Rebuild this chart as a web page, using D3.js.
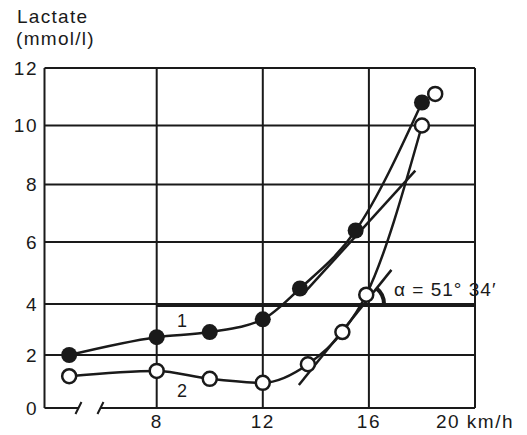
<!DOCTYPE html>
<html>
<head>
<meta charset="utf-8">
<script src="https://cdn.jsdelivr.net/npm/d3@7"></script>
<style>
  body { margin: 0; background: #fff; }
  text { font-family: "Liberation Sans", Arial, sans-serif; fill: #1a1a1a; }
</style>
</head>
<body>
<div id="chart"></div>
<script>
// curve 1 (filled circles)
var speed1 = [4.7, 8, 10, 12, 13.4, 15.5, 18];
var lactate1 = [2.0, 2.7, 2.9, 3.4, 4.5, 6.4, 10.8];
// curve 2 (open circles), last point is not joined
var speed2 = [4.7, 8, 10, 12, 13.7, 15, 15.9, 18, 18.5];
var lactate2 = [1.2, 1.4, 1.1, 0.95, 1.65, 2.9, 4.3, 10.0, 11.1];
// straight line drawn beside curve 1 and the tangent on curve 2
var lineSpeed = [13.55, 17.75];
var lineLactate = [4.35, 8.47];
var tangentSpeed = [13.36, 16.85];
var tangentLactate = [0.87, 5.1];
var threshold = 4;

var yTicks = [0, 2, 4, 6, 8, 10, 12];
var xTicks = [8, 12, 16, 20];
var xTickLabels = ["8", "12", "16", "20 km/h"];
var angleLabel = "\u03b1 = 51\u00b0 34\u2032";

var w = 527, h = 435;
var ink = "#1a1a1a";

var svg = d3.select("#chart").append("svg")
  .attr("width", w)
  .attr("height", h);

// x axis is broken on the left, so the first reading sits before the break
var x = d3.scaleLinear().domain([3.77, 20]).range([44.5, 475]);
// the printed grid is not quite even, follow it
var y = d3.scaleLinear().domain(yTicks).range([408, 355, 304, 242, 184.5, 125.5, 68]);

var grid = svg.append("g").attr("stroke", ink).attr("stroke-width", 2).attr("fill", "none");

// horizontal grid lines
grid.selectAll("line.h")
  .data(yTicks.filter(function(d) { return d > 0; }))
  .enter().append("line")
  .attr("x1", x.range()[0]).attr("x2", x.range()[1])
  .attr("y1", function(d) { return y(d); })
  .attr("y2", function(d) { return y(d); });

// vertical grid lines + left border
grid.selectAll("line.v")
  .data([x.domain()[0]].concat(xTicks))
  .enter().append("line")
  .attr("x1", function(d) { return x(d); })
  .attr("x2", function(d) { return x(d); })
  .attr("y1", y(0)).attr("y2", y(12));

// bottom axis with the break
var brk = [5.05, 5.88];
grid.append("line").attr("x1", x(x.domain()[0])).attr("x2", x(brk[0])).attr("y1", y(0)).attr("y2", y(0));
grid.append("line").attr("x1", x(brk[1])).attr("x2", x(20)).attr("y1", y(0)).attr("y2", y(0));
grid.selectAll("line.brk")
  .data(brk)
  .enter().append("line")
  .attr("x1", function(d) { return x(d) - 3; })
  .attr("x2", function(d) { return x(d) + 3; })
  .attr("y1", y(0) + 6).attr("y2", y(0) - 6);

// threshold at 4 mmol/l
svg.append("line")
  .attr("x1", x(8)).attr("x2", x(20))
  .attr("y1", y(threshold) + 1).attr("y2", y(threshold) + 1)
  .attr("stroke", ink).attr("stroke-width", 4);

// tick labels
svg.selectAll("text.ytick")
  .data(yTicks)
  .enter().append("text")
  .attr("x", 38)
  .attr("y", function(d) { return y(d); })
  .attr("dy", "0.35em")
  .attr("text-anchor", "end")
  .style("font-size", "19px")
  .style("letter-spacing", "1.5px")
  .text(function(d) { return d; });

svg.selectAll("text.xtick")
  .data(xTicks)
  .enter().append("text")
  .attr("x", function(d) { return x(d); })
  .attr("y", 428)
  .attr("text-anchor", "middle")
  .style("font-size", "19px")
  .style("letter-spacing", "1.5px")
  .text(function(d, i) { return xTickLabels[i]; });

svg.append("text").attr("x", 17).attr("y", 23)
  .style("font-size", "19px").style("letter-spacing", "1.3px").text("Lactate");
svg.append("text").attr("x", 16).attr("y", 45)
  .style("font-size", "19px").style("letter-spacing", "1.3px").text("(mmol/l)");

// curves
var pts1 = speed1.map(function(s, i) { return [s, lactate1[i]]; });
var pts2 = speed2.map(function(s, i) { return [s, lactate2[i]]; });

var curve = d3.line()
  .x(function(d) { return x(d[0]); })
  .y(function(d) { return y(d[1]); })
  .curve(d3.curveMonotoneX);

var straight = d3.line()
  .x(function(d) { return x(d[0]); })
  .y(function(d) { return y(d[1]); });

svg.append("path").attr("d", curve(pts1))
  .attr("fill", "none").attr("stroke", ink).attr("stroke-width", 2.5);
svg.append("path").attr("d", curve(pts2.filter(function(d) { return d[0] <= 18; })))
  .attr("fill", "none").attr("stroke", ink).attr("stroke-width", 2.5);

svg.append("path")
  .attr("d", straight(lineSpeed.map(function(s, i) { return [s, lineLactate[i]]; })))
  .attr("fill", "none").attr("stroke", ink).attr("stroke-width", 2.5);
svg.append("path")
  .attr("d", straight(tangentSpeed.map(function(s, i) { return [s, tangentLactate[i]]; })))
  .attr("fill", "none").attr("stroke", ink).attr("stroke-width", 2.5);

// angle marker where the tangent crosses 4 mmol/l
var t0 = [x(tangentSpeed[0]), y(tangentLactate[0])];
var t1 = [x(tangentSpeed[1]), y(tangentLactate[1])];
var k = (y(threshold) - t0[1]) / (t1[1] - t0[1]);
var cx = t0[0] + k * (t1[0] - t0[0]);
var ang = Math.atan2(t0[1] - t1[1], t1[0] - t0[0]);
var arc = d3.arc()
  .innerRadius(18).outerRadius(22)
  .startAngle(Math.PI / 2 - ang)
  .endAngle(Math.PI / 2);
svg.append("path")
  .attr("transform", "translate(" + cx + "," + y(threshold) + ")")
  .attr("d", arc())
  .attr("fill", ink);

svg.append("text")
  .attr("x", x(16.95)).attr("y", y(4.27))
  .style("font-size", "19px")
  .style("letter-spacing", "1px")
  .text(angleLabel);

// markers
svg.selectAll("circle.open")
  .data(pts2)
  .enter().append("circle")
  .attr("cx", function(d) { return x(d[0]); })
  .attr("cy", function(d) { return y(d[1]); })
  .attr("r", 7)
  .attr("fill", "#fff").attr("stroke", ink).attr("stroke-width", 2.5);

svg.selectAll("circle.filled")
  .data(pts1)
  .enter().append("circle")
  .attr("cx", function(d) { return x(d[0]); })
  .attr("cy", function(d) { return y(d[1]); })
  .attr("r", 8)
  .attr("fill", ink);

// curve numbers
svg.append("text").attr("x", x(8.95)).attr("y", y(3.1))
  .attr("text-anchor", "middle").style("font-size", "18px").text("1");
svg.append("text").attr("x", x(8.95)).attr("y", y(0.43))
  .attr("text-anchor", "middle").style("font-size", "18px").text("2");
</script>
</body>
</html>
